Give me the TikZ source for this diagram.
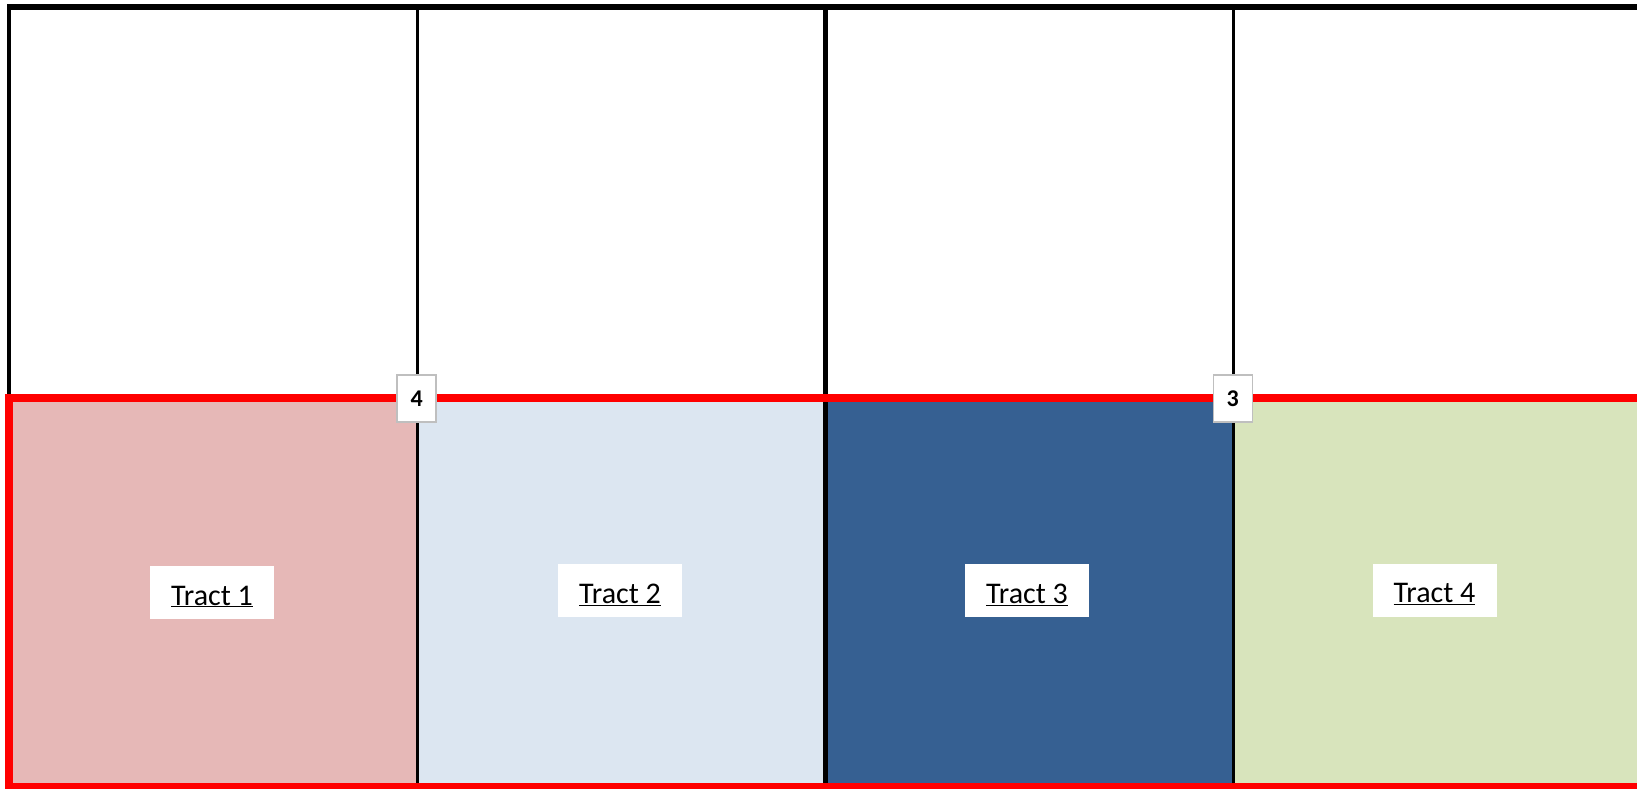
\documentclass[tikz,border=0pt]{standalone}
\usepackage{fontspec}
\setmainfont{Carlito}
\definecolor{tractA}{HTML}{E6B8B7}
\definecolor{tractB}{HTML}{DCE6F1}
\definecolor{tractC}{HTML}{366092}
\definecolor{tractD}{HTML}{D8E4BC}
\definecolor{boxgray}{HTML}{BFBFBF}
\tikzset{
  tractbox/.style={fill=white, inner sep=0pt, minimum width=124pt, minimum height=53pt},
  tracttext/.style={inner sep=0pt, font=\fontsize{30}{36}\selectfont},
  numlabel/.style={fill=white, draw=boxgray, line width=1.5pt, inner sep=0pt,
    minimum width=39pt, minimum height=47pt, font=\fontsize{24}{28}\selectfont\bfseries},
  redline/.style={draw=red, line width=7.5pt},
}
\begin{document}
\begin{tikzpicture}[x=1pt,y=-1pt]
\useasboundingbox (0,0) rectangle (1637,788);
\clip (0,0) rectangle (1637,788);
% tract fills
\fill[tractA] (9,398) rectangle (417.5,787);
\fill[tractB] (417.5,398) rectangle (825.5,787);
\fill[tractC] (825.5,398) rectangle (1233.5,787);
\fill[tractD] (1233.5,398) rectangle (1660,787);
% black grid lines
\draw[line width=6pt] (7,7) -- (1660,7);
\draw[line width=4pt] (9,4) -- (9,398);
\draw[line width=3pt] (417.5,7) -- (417.5,790);
\draw[line width=5pt] (825.5,7) -- (825.5,790);
\draw[line width=3pt] (1233.5,7) -- (1233.5,790);
% red boundary
\draw[redline] (1660,398) -- (9,398) -- (9,787) -- (1660,787);
% tract labels
\node[tractbox] (t1) at (212,592.5) {};
\node[tractbox] (t2) at (620,590.5) {};
\node[tractbox] (t3) at (1027,590.5) {};
\node[tractbox] (t4) at (1434.5,590) {};
\node[tracttext] (l1) at ([yshift=-4pt]t1.center) {\underline{Tract 1}};
\node[tracttext] (l2) at ([yshift=-4pt]t2.center) {\underline{Tract 2}};
\node[tracttext] (l3) at ([yshift=-4pt]t3.center) {\underline{Tract 3}};
\node[tracttext] (l4) at ([yshift=-4pt]t4.center) {\underline{Tract 4}};
% number labels
\node[numlabel] (n4) at (416.7,398.3) {4};
\node[numlabel] (n3) at (1232.8,398.3) {3};
\end{tikzpicture}
\end{document}
